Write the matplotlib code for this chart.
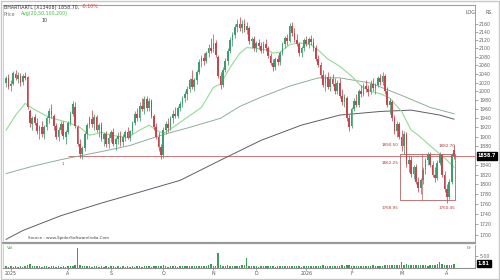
import matplotlib
matplotlib.use("Agg")
import matplotlib.pyplot as plt
import matplotlib.transforms as mtransforms
from matplotlib.patches import Rectangle
import numpy as np

# ---------------- data ----------------
opens = [2020,2030,2012,2018,2040,2028,2036,2022,2035,2032,
         1955,1928,1942,1930,1912,1920,1905,1920,1940,1955,
         1945,1922,1900,1915,1928,1900,1910,1930,1950,1965,
         1920,1885,1862,1875,1905,1925,1938,1928,1942,1915,
         1925,1895,1905,1885,1898,1910,1885,1895,1902,1888,
         1900,1910,1898,1912,1930,1950,1940,1968,1960,1982,
         1962,1978,1945,1920,1900,1878,1860,1915,1928,1918,
         1940,1950,1945,1962,1972,1985,1995,2005,2028,2010,
         2025,2045,2068,2078,2070,2090,2100,2098,2112,2080,
         2035,2015,2050,2070,2095,2120,2132,2152,2158,2150,
         2160,2145,2150,2118,2122,2100,2112,2105,2095,2110,
         2100,2082,2065,2055,2075,2068,2090,2110,2125,2118,
         2155,2138,2120,2110,2088,2100,2120,2110,2122,2115,
         2100,2075,2060,2038,2015,2032,2010,2028,2018,2000,
         2020,1990,1975,1985,1940,1922,1960,1978,1970,2000,
         1995,2012,2005,1998,2018,2008,2015,2030,2022,2035,
         2000,1970,1975,1940,1912,1928,1900,1880,1905,1842,
         1850,1822,1835,1805,1792,1808,1830,1850,1862,1840,
         1820,1812,1845,1860,1820,1790,1775,1805,1872]
highs = [2035,2040,2025,2048,2050,2045,2042,2040,2045,2036,
         1960,1945,1950,1940,1925,1935,1925,1945,1962,1972,
         1950,1930,1920,1935,1935,1915,1935,1955,1978,1975,
         1925,1895,1880,1910,1930,1945,1958,1950,1948,1930,
         1932,1910,1912,1905,1915,1918,1900,1910,1912,1905,
         1915,1920,1915,1935,1955,1962,1975,1985,1990,1990,
         1985,1982,1950,1930,1910,1885,1920,1935,1940,1945,
         1958,1965,1968,1978,1990,2000,2012,2030,2050,2030,
         2050,2075,2085,2090,2095,2110,2125,2135,2120,2085,
         2045,2055,2078,2100,2128,2140,2160,2172,2175,2168,
         2172,2165,2155,2128,2130,2118,2122,2115,2118,2122,
         2105,2090,2075,2080,2085,2095,2115,2130,2135,2162,
         2165,2150,2135,2115,2105,2125,2130,2128,2132,2125,
         2108,2085,2068,2050,2040,2045,2035,2040,2030,2025,
         2030,2005,1995,1990,1950,1965,1985,1995,2005,2015,
         2020,2025,2015,2025,2030,2020,2035,2040,2045,2040,
         2010,1985,1980,1948,1935,1932,1915,1912,1910,1860,
         1858,1840,1842,1815,1812,1835,1855,1868,1868,1848,
         1835,1850,1868,1862,1828,1800,1810,1865,1882]
lows = [2010,2005,2000,2015,2025,2020,2012,2015,2025,1960,
        1920,1915,1925,1905,1895,1900,1895,1915,1930,1940,
        1915,1895,1890,1905,1895,1885,1905,1925,1945,1918,
        1880,1855,1852,1870,1895,1918,1920,1915,1910,1900,
        1890,1880,1878,1875,1888,1880,1872,1885,1880,1880,
        1890,1895,1890,1905,1925,1935,1935,1955,1950,1955,
        1955,1940,1915,1895,1870,1852,1855,1905,1910,1915,
        1930,1940,1940,1955,1965,1975,1980,1998,2005,2000,
        2018,2040,2055,2060,2065,2080,2090,2092,2080,2030,
        2005,2010,2045,2062,2090,2105,2125,2140,2142,2138,
        2140,2135,2110,2100,2095,2092,2098,2088,2090,2095,
        2078,2060,2048,2050,2060,2062,2085,2100,2108,2115,
        2130,2115,2105,2082,2080,2095,2105,2102,2108,2095,
        2070,2055,2030,2010,2000,2005,2000,2012,1995,1995,
        1985,1970,1965,1935,1912,1918,1955,1965,1965,1988,
        1990,1998,1990,1995,2000,1995,2010,2015,2015,1995,
        1965,1950,1935,1905,1900,1895,1870,1862,1835,1825,
        1815,1810,1800,1785,1780,1800,1822,1840,1835,1815,
        1805,1808,1840,1815,1785,1762,1770,1800,1852]
closes = [2030,2010,2018,2042,2030,2038,2020,2035,2030,1965,
          1930,1940,1930,1912,1920,1905,1920,1940,1955,1948,
          1922,1900,1915,1928,1902,1910,1930,1950,1972,1922,
          1885,1862,1875,1905,1925,1940,1928,1942,1915,1925,
          1895,1905,1885,1898,1910,1885,1895,1902,1888,1900,
          1910,1898,1912,1930,1950,1940,1968,1960,1982,1962,
          1978,1945,1920,1900,1878,1860,1915,1928,1918,1940,
          1950,1945,1962,1972,1985,1995,2005,2025,2010,2025,
          2045,2068,2078,2070,2090,2100,2095,2112,2085,2035,
          2015,2050,2070,2095,2120,2132,2152,2158,2150,2160,
          2145,2155,2118,2122,2100,2112,2105,2095,2110,2100,
          2082,2065,2055,2075,2068,2090,2110,2125,2118,2155,
          2138,2120,2110,2088,2100,2120,2110,2122,2115,2100,
          2075,2060,2038,2015,2032,2010,2028,2018,2000,2020,
          1990,1975,1988,1940,1920,1960,1978,1970,2000,1995,
          2012,2005,1998,2018,2008,2015,2030,2022,2035,2000,
          1970,1978,1940,1912,1928,1900,1880,1905,1842,1850,
          1822,1835,1805,1792,1808,1830,1850,1862,1840,1820,
          1812,1845,1860,1820,1790,1775,1805,1860,1858.7]
volumes = [0.7,0.6,0.8,0.5,0.7,0.6,0.9,0.6,0.7,1.1,
           1.7,0.9,0.8,0.7,0.9,0.6,0.8,0.7,0.6,0.9,
           0.7,0.6,0.8,0.5,0.7,0.6,0.9,0.7,0.8,1.2,
           8.3,1.4,0.9,0.8,0.7,0.9,0.6,0.8,0.7,0.6,
           0.8,0.5,0.7,0.6,0.8,0.7,0.5,0.9,0.6,0.7,
           0.6,0.8,0.5,0.7,0.6,0.9,0.7,0.6,0.8,0.7,
           0.9,0.6,0.7,0.8,1.0,0.9,1.1,0.7,0.6,0.8,
           0.7,0.9,0.6,0.8,0.7,0.9,0.8,1.0,0.7,0.8,
           0.9,0.7,0.8,1.0,0.9,1.1,1.7,0.9,1.0,6.3,
           1.3,1.0,0.9,1.1,0.8,0.9,1.0,0.8,0.9,1.1,
           1.2,4.2,1.0,0.8,0.7,0.9,0.6,0.8,0.7,0.9,
           0.8,0.7,0.9,0.6,0.8,0.7,0.9,0.8,0.7,1.0,
           0.9,0.8,0.7,0.9,0.6,0.8,0.7,0.9,0.8,0.7,
           0.9,1.0,0.8,1.1,0.9,0.8,1.0,0.9,0.8,1.0,
           0.9,1.1,0.8,1.2,1.3,1.0,0.9,0.8,1.0,0.9,
           0.8,1.0,0.9,0.8,1.1,0.9,1.0,0.8,0.9,1.2,
           1.3,1.1,1.2,1.4,1.1,1.3,2.5,1.4,1.5,1.2,
           1.3,1.1,1.2,1.4,1.3,1.1,1.2,1.0,1.3,1.2,
           1.4,1.6,2.5,1.5,1.3,1.2,1.4,1.1,1.81]

# moving averages (candle index, value)
ma20_idx = [0,4,8,11,18,26,31,35,40,44,51,56,60,63,66,70,76,82,87,90,94,98,101,
            105,110,112,115,119,123,128,131,135,140,145,149,153,157,161,166,170,
            173,179,185,188]
ma20_val = [1914,1947,1973,1962,1942,1931,1920,1903,1909,1903,1898,1914,1925,1914,
            1907,1920,1942,1964,2009,2017,2055,2088,2102,2100,2096,2089,2091,2109,
            2113,2109,2096,2075,2058,2035,2012,2000,1995,1985,1955,1914,1903,1876,
            1850,1835]
ma100_idx = [0,11,23,40,52,65,77,90,98,107,119,131,140,153,166,178,188]
ma100_val = [1822,1837,1851,1868,1881,1903,1920,1940,1966,1987,2012,2031,2031,
             2019,1991,1964,1950]
ma200_idx = [0,7,23,40,56,73,90,107,124,140,157,170,182,188]
ma200_val = [1691,1708,1737,1762,1784,1808,1850,1892,1925,1947,1955,1958,1947,1938]

price_ticks = [p for p in range(1700, 2161, 20) if p != 1860]
month_idx = [2, 26, 44, 66, 87, 105, 126, 145, 166, 185]
month_labels = ["2025", "A", "S", "O", "N", "D", "2026", "F", "M", "A"]

last_price = 1858.7
support_start = 26
box_start, box_end, box_mid = 165.5, 188.5, 174.5
box_high, box_low = 1862.25, 1768.95
last_vol = 1.81

# ---------------- figure ----------------
W, H = 500, 280
fig = plt.figure(figsize=(5, 2.8), dpi=100)
fig.patch.set_facecolor("white")
plt.rcParams['font.family'] = ['DejaVu Sans']

def fx(px):
    return px / W
def fy(py):
    return 1 - py / H

ax = fig.add_axes([fx(3), fy(243), fx(472), 238 / H])
axv = fig.add_axes([fx(3), fy(268), fx(472), 23 / H], sharex=ax)

idx = np.arange(len(closes))
o = np.array(opens, float); c = np.array(closes, float)
h = np.array(highs, float); l = np.array(lows, float)
up = c >= o
green = "#3f9c6e"
red = "#c8454e"
cols = np.where(up, green, red)

ax.set_yscale("log")
ax.vlines(idx, l, h, colors=cols, lw=0.55, zorder=3)
body_lo = np.minimum(o, c)
body_h = np.maximum(np.abs(c - o), 0.8)
ax.bar(idx, body_h, bottom=body_lo, width=0.72, color=cols, linewidth=0, zorder=4)

ax.plot(ma200_idx, ma200_val, color="#5e5d6b", lw=0.7, zorder=2)
ax.plot(ma100_idx, ma100_val, color="#8fae9c", lw=0.7, zorder=2)
ax.plot(ma20_idx, ma20_val, color="#92dc92", lw=0.8, zorder=2)

xmin, xmax = -1.3, 196.8
ax.set_xlim(xmin, xmax)
ax.set_ylim(1684, 2206)

# support line and box
dark_red = "#b23a3a"
ax.hlines(last_price, support_start, xmax, colors="#c86060", lw=0.6, zorder=1)
ax.text(support_start - 2.5, 1842, "1", fontsize=3, color=dark_red, ha="left", va="center")
ax.add_patch(Rectangle((box_start, box_low), box_end - box_start, box_high - box_low,
                       fill=False, edgecolor="#b86060", lw=0.6, zorder=5))
ax.vlines(box_mid, box_low, box_high, colors="#b86060", lw=0.5, zorder=5)
ax.text(box_start - 0.8, 1881, "1890.50", fontsize=3, color=dark_red, ha="right", va="center")
ax.text(box_start - 0.8, 1845, "1862.25", fontsize=3, color=dark_red, ha="right", va="center")
ax.text(box_end, 1879, "1882.70", fontsize=3, color=dark_red, ha="right", va="center")
ax.text(box_start - 0.8, 1752, "1768.95", fontsize=3, color=dark_red, ha="right", va="center")
ax.text(box_end, 1752, "1760.45", fontsize=3, color=dark_red, ha="right", va="center")

# right price axis
ax.yaxis.tick_right()
ax.set_yticks(price_ticks)
ax.set_yticklabels([str(p) for p in price_ticks])
ax.yaxis.set_minor_locator(matplotlib.ticker.NullLocator())
ax.tick_params(axis="y", which="major", labelsize=3.4, colors="#666666", length=2,
               width=0.4, pad=1)
ax.tick_params(axis="x", bottom=False, labelbottom=False)
trans = mtransforms.blended_transform_factory(ax.transAxes, ax.transData)
ax.text(1.006, last_price, "1858.7", transform=trans, fontsize=3.4, color="white",
        va="center", ha="left", fontweight="bold",
        bbox=dict(boxstyle="square,pad=0.25", fc="black", ec="black"), zorder=10,
        clip_on=False)

for s in ["left"]:
    ax.spines[s].set_color("#c8c8c8"); ax.spines[s].set_linewidth(0.6)
ax.spines["top"].set_color("#a0a0a0"); ax.spines["top"].set_linewidth(0.8)
ax.spines["right"].set_color("#909090"); ax.spines["right"].set_linewidth(0.6)
ax.spines["bottom"].set_color("#9a9a9a"); ax.spines["bottom"].set_linewidth(1.6)

# volume panel
axv.bar(idx, volumes, width=0.6, color="#3f9c55", linewidth=0)
axv.set_ylim(0, 9.6)
axv.yaxis.tick_right()
axv.set_yticks([5])
axv.set_yticklabels(["5.00"])
axv.tick_params(axis="y", labelsize=3.4, colors="#666666", length=2, width=0.4, pad=1)
axv.set_xticks(month_idx)
axv.set_xticklabels(month_labels)
axv.tick_params(axis="x", labelsize=3.4, colors="#555555", length=1.5, width=0.4, pad=1)
transv = mtransforms.blended_transform_factory(axv.transAxes, axv.transData)
axv.text(1.006, last_vol, "1.81", transform=transv, fontsize=3.4, color="white",
         va="center", ha="left", fontweight="bold",
         bbox=dict(boxstyle="square,pad=0.25", fc="black", ec="black"), clip_on=False)
axv.text(0.008, 0.95, "Vol", transform=axv.transAxes, fontsize=3.2, color="#3aa04a",
         va="top", ha="left")
axv.text(0.993, 0.95, "Cr", transform=axv.transAxes, fontsize=3.2, color="#555555",
         va="top", ha="right")
axv.spines["top"].set_visible(False)
axv.spines["left"].set_color("#c8c8c8"); axv.spines["left"].set_linewidth(0.6)
axv.spines["right"].set_color("#909090"); axv.spines["right"].set_linewidth(0.6)
axv.spines["bottom"].set_color("#909090"); axv.spines["bottom"].set_linewidth(0.8)

# header texts
fig.text(fx(4), fy(7), "BHARTIARTL [X13408] 1858.70,", fontsize=3.4, color="#333333",
         va="center", ha="left")
fig.text(fx(82), fy(7), "-0.10%", fontsize=3.4, color="#d04040", va="center", ha="left")
fig.text(fx(4), fy(14), "Price", fontsize=3.4, color="#777777", va="center", ha="left")
fig.text(fx(21), fy(14), "Avg(20,50,100,200)", fontsize=3.4, color="#3cc03c",
         va="center", ha="left")
fig.text(fx(41), fy(20), "10", fontsize=3.4, color="#333333", va="center", ha="left")
fig.text(fx(466), fy(13), "LOG", fontsize=3.4, color="#555555", va="center", ha="left")
fig.text(fx(485), fy(13), "RS.", fontsize=3.4, color="#555555", va="center", ha="left")
fig.text(fx(28), fy(238), "Source : www.SpiderSoftwareIndia.Com", fontsize=3.0,
         color="#444444", va="center", ha="left")

fig.patches.append(Rectangle((0.002, 0.003), 0.996, 0.994, transform=fig.transFigure,
                             fill=False, edgecolor="#c8c8c8", lw=1.0))

fig.savefig("out.png", dpi=100, facecolor="white")
